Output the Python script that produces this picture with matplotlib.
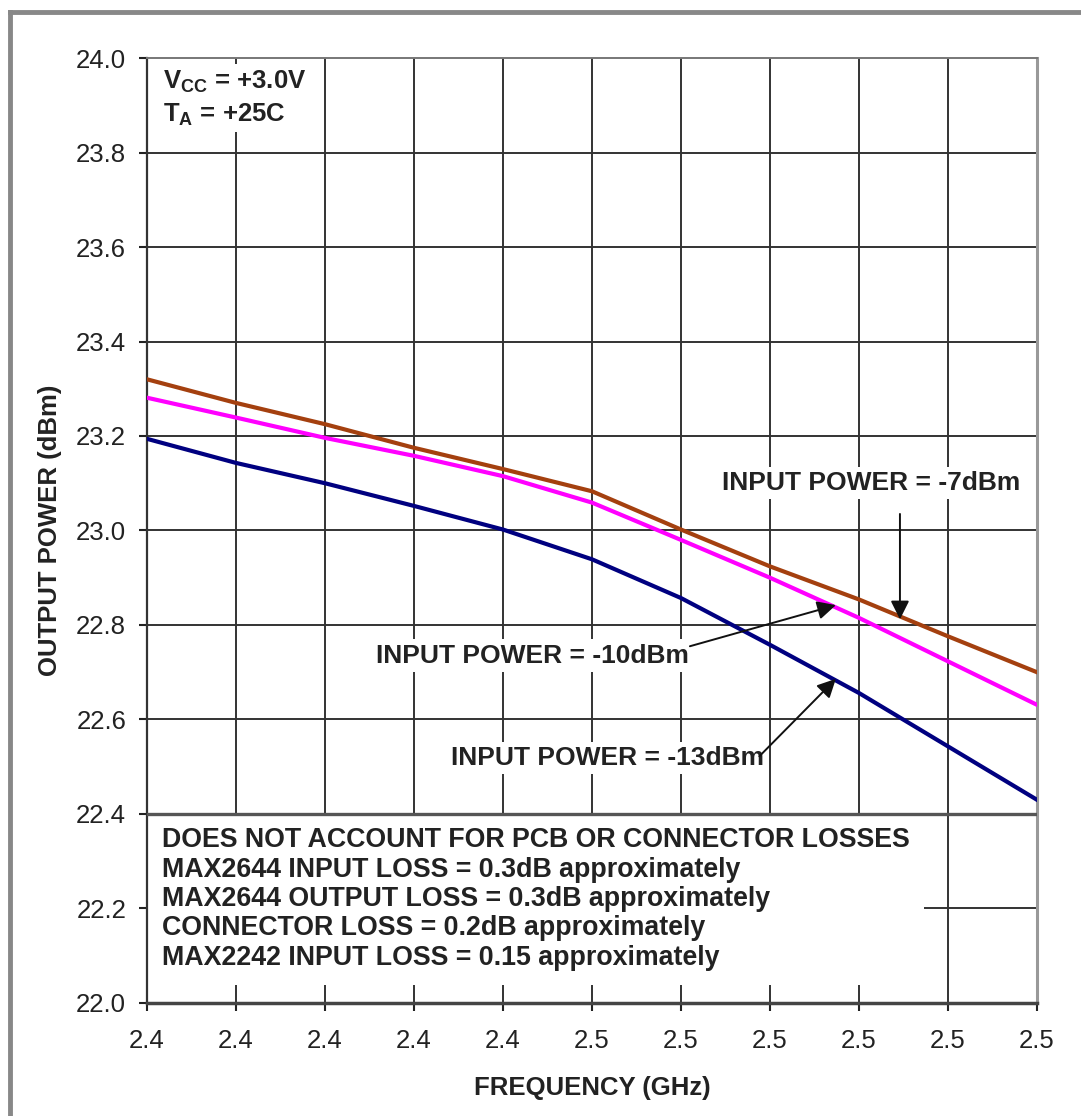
import matplotlib
matplotlib.use("Agg")
import matplotlib.pyplot as plt
from matplotlib.lines import Line2D
import numpy as np

plt.rcParams["font.family"] = ["Liberation Sans", "DejaVu Sans"]
plt.rcParams["mathtext.fontset"] = "custom"
plt.rcParams["mathtext.rm"] = "Liberation Sans"
plt.rcParams["mathtext.bf"] = "Liberation Sans:bold"
plt.rcParams["mathtext.default"] = "bf"

# frequency points (GHz); the axis labels are rounded to one decimal in the original
freq = np.round(np.arange(2.40, 2.505, 0.01), 2)
freq_labels = ["2.4", "2.4", "2.4", "2.4", "2.4", "2.5", "2.5", "2.5", "2.5", "2.5", "2.5"]
power_ticks = np.round(np.arange(22.0, 24.01, 0.2), 1)

# output power (dBm)
pout_m7 = [23.32, 23.27, 23.225, 23.175, 23.13, 23.083, 23.002, 22.924, 22.854, 22.776, 22.70]
pout_m10 = [23.281, 23.239, 23.196, 23.158, 23.115, 23.059, 22.98, 22.90, 22.815, 22.723, 22.631]
pout_m13 = [23.194, 23.143, 23.10, 23.052, 23.002, 22.939, 22.857, 22.758, 22.656, 22.543, 22.43]

notes = [
    "DOES NOT ACCOUNT FOR PCB OR CONNECTOR LOSSES",
    "MAX2644 INPUT LOSS = 0.3dB approximately",
    "MAX2644 OUTPUT LOSS = 0.3dB approximately",
    "CONNECTOR LOSS = 0.2dB approximately",
    "MAX2242 INPUT LOSS = 0.15 approximately",
]

fig = plt.figure(figsize=(10.81, 11.16), dpi=100)
ax = fig.add_axes([0.136, 0.1013, 0.8233, 0.8467])

grid_kw = dict(color="#333333", lw=1.4, zorder=1)
for f in freq[1:-1]:
    ax.axvline(f, **grid_kw)
for p in power_ticks[1:-1]:
    ax.axhline(p, **grid_kw)

ax.plot(freq, pout_m7, color="#A4400F", lw=3.0, zorder=3)
ax.plot(freq, pout_m10, color="#FF00FF", lw=3.0, zorder=3)
ax.plot(freq, pout_m13, color="#000080", lw=3.0, zorder=3)

ax.set_xlim(2.40, 2.50)
ax.set_ylim(22.0, 24.0)
ax.set_xticks(freq)
ax.set_xticklabels(freq_labels)
ax.set_yticks(power_ticks)
ax.set_yticklabels([f"{p:.1f}" for p in power_ticks])
ax.tick_params(axis="both", direction="out", length=6, width=1.5, labelsize=18.5, colors="#222222")
ax.tick_params(axis="x", pad=13)
ax.tick_params(axis="y", pad=9)

ax.spines["left"].set_color("#333333")
ax.spines["left"].set_linewidth(1.6)
ax.spines["bottom"].set_color("#444444")
ax.spines["bottom"].set_linewidth(2.5)
ax.spines["top"].set_color("#777777")
ax.spines["top"].set_linewidth(1.4)
ax.spines["right"].set_color("#999999")
ax.spines["right"].set_linewidth(2.2)

ax.set_xlabel("FREQUENCY (GHz)", fontsize=18.5, fontweight="bold", color="#222222", labelpad=16)
ax.set_ylabel("OUTPUT POWER (dBm)", fontsize=18.5, fontweight="bold", color="#222222", labelpad=10)

white = dict(facecolor="white", edgecolor="none", pad=3)
ax.text(2.4018, 23.915, "V$_{CC}$ = +3.0V\nT$_{A}$ = +25C", fontsize=18.5, fontweight="bold",
        color="#222222", ha="left", va="center", linespacing=1.35, bbox=white, zorder=2)

# curve annotations
ann_kw = dict(fontsize=19, fontweight="bold", color="#222222", va="center", bbox=white, zorder=2)
ax.text(2.4814, 23.10, "INPUT POWER = -7dBm", ha="center", **ann_kw)
ax.text(2.4433, 22.735, "INPUT POWER = -10dBm", ha="center", **ann_kw)
ax.text(2.4517, 22.518, "INPUT POWER = -13dBm", ha="center", **ann_kw)

arrow = dict(arrowstyle="-|>", color="#111111", lw=1.4, mutation_scale=28, shrinkA=0, shrinkB=0)
ax.annotate("", xy=(2.4846, 22.812), xytext=(2.4846, 23.035), arrowprops=arrow, zorder=4)
ax.annotate("", xy=(2.4774, 22.842), xytext=(2.4610, 22.755), arrowprops=arrow, zorder=4)
ax.annotate("", xy=(2.4774, 22.686), xytext=(2.4688, 22.522), arrowprops=arrow, zorder=4)

# loss notes, white box hides the grid underneath
ax.text(2.4017, 22.372, "\n".join(notes), fontsize=19.3, fontweight="bold", color="#222222",
        ha="left", va="top", linespacing=1.17,
        bbox=dict(facecolor="white", edgecolor="none", pad=10), zorder=2)
ax.axhline(22.4, color="#555555", lw=2.4, zorder=4)

# grey frame around the figure (top and left only)
fig.add_artist(Line2D([10 / 1081, 1.0], [1 - 12 / 1116, 1 - 12 / 1116], transform=fig.transFigure,
                      color="#888888", lw=3.5))
fig.add_artist(Line2D([10 / 1081, 10 / 1081], [0.0, 1 - 12 / 1116], transform=fig.transFigure,
                      color="#888888", lw=3.5))

fig.savefig("out.png", dpi=100)
